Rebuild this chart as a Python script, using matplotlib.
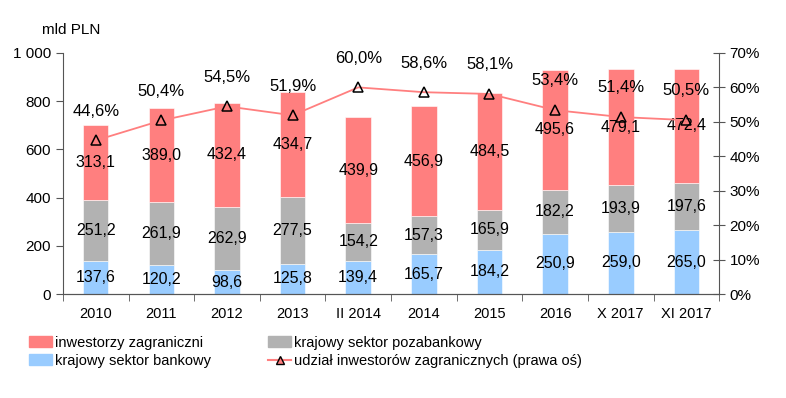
import matplotlib
matplotlib.use("Agg")
from matplotlib import pyplot as plt
from matplotlib.patches import Patch
from matplotlib.lines import Line2D
from matplotlib.ticker import FuncFormatter

categories = ["2010", "2011", "2012", "2013", "II 2014", "2014", "2015", "2016", "X 2017", "XI 2017"]
bank = [137.6, 120.2, 98.6, 125.8, 139.4, 165.7, 184.2, 250.9, 259.0, 265.0]
nonbank = [251.2, 261.9, 262.9, 277.5, 154.2, 157.3, 165.9, 182.2, 193.9, 197.6]
foreign = [313.1, 389.0, 432.4, 434.7, 439.9, 456.9, 484.5, 495.6, 479.1, 472.4]
share = [44.6, 50.4, 54.5, 51.9, 60.0, 58.6, 58.1, 53.4, 51.4, 50.5]

RED = "#FF7F7F"
GRAY = "#B2B2B2"
BLUE = "#99CCFF"

plt.rcParams["font.family"] = ["Liberation Sans", "DejaVu Sans"]

fig = plt.figure(figsize=(7.86, 3.98), dpi=100)
ax = fig.add_axes([0.080, 0.261, 0.835, 0.606])
ax2 = ax.twinx()

x = list(range(len(categories)))
w = 0.39
bottom2 = [b + n for b, n in zip(bank, nonbank)]
ax.bar(x, bank, w, color=BLUE, edgecolor="white", linewidth=0.4)
ax.bar(x, nonbank, w, bottom=bank, color=GRAY, edgecolor="white", linewidth=0.4)
ax.bar(x, foreign, w, bottom=bottom2, color=RED, edgecolor="white", linewidth=0.4)

# values inside the stacked segments
for i in x:
    ax.text(i, bank[i] / 2, f"{bank[i]:.1f}".replace(".", ","), ha="center", va="center", fontsize=11.5)
    ax.text(i, bank[i] + nonbank[i] / 2, f"{nonbank[i]:.1f}".replace(".", ","), ha="center", va="center", fontsize=11.5)
    ax.text(i, bottom2[i] + foreign[i] / 2, f"{foreign[i]:.1f}".replace(".", ","), ha="center", va="center", fontsize=11.5)

ax.set_xlim(-0.5, len(categories) - 0.5)
ax.set_ylim(0, 1000)
ax.set_yticks(range(0, 1001, 200))
ax.yaxis.set_major_formatter(FuncFormatter(lambda v, p: f"{int(v):,}".replace(",", " ")))
ax.set_xticks(x)
ax.set_xticklabels(categories, fontsize=10.5)
ax.set_xticks([i + 0.5 for i in range(-1, len(categories))], minor=True)
ax.tick_params(axis="x", which="major", length=0, pad=9)
ax.tick_params(axis="x", which="minor", length=5, direction="out", color="#555555")
ax.tick_params(axis="y", labelsize=11, length=5, color="#555555")

ax2.plot(x, share, color=RED, linewidth=1.3, marker="^", markersize=7,
         markerfacecolor="none", markeredgecolor="black", markeredgewidth=1.1)
for i in x:
    ax2.annotate(f"{share[i]:.1f}%".replace(".", ","), (i, share[i]), xytext=(0, 21),
                 textcoords="offset points", ha="center", va="center", fontsize=12)
ax2.set_ylim(0, 70)
ax2.set_yticks(range(0, 71, 10))
ax2.yaxis.set_major_formatter(FuncFormatter(lambda v, p: f"{int(v)}%"))
ax2.tick_params(axis="y", labelsize=11, length=8, direction="inout", color="#555555")

for a in (ax, ax2):
    a.spines["top"].set_visible(False)
    for s in ("left", "right", "bottom"):
        a.spines[s].set_color("#555555")
ax.spines["right"].set_visible(False)
ax2.spines["left"].set_visible(False)

fig.text(0.053, 0.925, "mld PLN", fontsize=11, ha="left", va="center")

handles = [
    Patch(color=RED, label="inwestorzy zagraniczni"),
    Patch(color=BLUE, label="krajowy sektor bankowy"),
    Patch(color=GRAY, label="krajowy sektor pozabankowy"),
    Line2D([0], [0], color=RED, marker="^", markersize=6, markerfacecolor=RED,
           markeredgecolor="black", label="udział inwestorów zagranicznych (prawa oś)"),
]
fig.legend(handles=handles, ncol=2, loc="upper left", bbox_to_anchor=(0.02, 0.19),
           frameon=False, prop={"size": 10.5}, handlelength=1.6,
           handleheight=0.8, handletextpad=0.2, columnspacing=3.9, labelspacing=0.3)

fig.savefig("out.png", dpi=100)
